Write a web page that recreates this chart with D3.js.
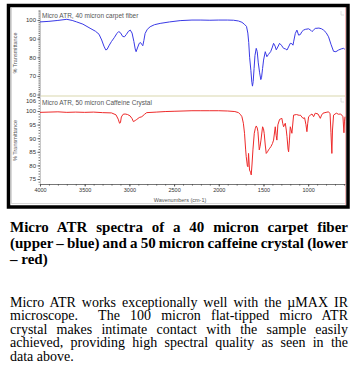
<!DOCTYPE html>
<html><head><meta charset="utf-8">
<script src="https://cdn.jsdelivr.net/npm/d3@7"></script>
<style>
body{margin:0;background:#fff;width:359px;height:379px;overflow:hidden;position:relative;}
svg{position:absolute;left:0;top:0;}
.blk{position:absolute;left:10px;width:338px;color:#000;}
.cap{font-family:"Liberation Serif","Times New Roman",serif;font-weight:bold;font-size:15px;line-height:16px;}
.par{font-family:"Liberation Serif","Times New Roman",serif;font-size:14px;line-height:13.6px;}
.ln{white-space:nowrap;display:block;}
.ln span{display:inline-block;white-space:pre;}
</style></head><body>
<svg id="chart" width="359" height="215"></svg>
<div class="blk cap" id="cap" style="top:219px;"></div>
<div class="blk par" id="par" style="top:295.5px;"></div>
<script>
// ---------------- data ----------------
const fiberTitle = "Micro ATR, 40 micron carpet fiber";
const caffeineTitle = "Micro ATR, 50 micron Caffeine Crystal";
const yTitle = "% Transmittance";
const xTitle = "Wavenumbers (cm-1)";

const fiberWavenumbers = [4000,3900,3800,3700,3640,3590,3520,3440,3380,3340,3310,3285,3265,3250,3225,3200,3170,3140,3120,3100,3075,3055,3035,3010,2990,2970,2950,2935,2925,2910,2890,2875,2860,2850,2838,2824,2800,2768,2720,2656,2550,2432,2300,2200,2100,2000,1900,1835,1780,1741,1715,1690,1675,1665,1655,1641,1630,1623,1615,1605,1595,1581,1570,1558,1544,1530,1522,1510,1499,1480,1462,1445,1420,1400,1387,1370,1357,1340,1320,1300,1275,1255,1237,1220,1200,1182,1170,1163,1144,1126,1107,1088,1070,1051,1032,995,970,957,940,921,880,850,828,800,772,745,716,690,660,630,604,590];
const fiberTransmittance = [99.0,99.3,99.8,100.4,99.8,99.0,97.8,95.6,94.0,92.4,89.3,86.0,84.0,84.2,86.5,88.5,90.5,92.8,93.8,93.2,91.2,91.0,92.2,94.0,94.6,93.0,88.5,84.5,83.0,85.0,87.5,87.9,86.8,86.2,89.0,92.8,95.0,96.4,97.5,98.2,99.0,99.7,100.0,100.0,99.9,100.0,100.0,99.9,99.5,98.8,97.8,96.6,93.0,88.0,80.0,73.0,66.5,64.5,67.0,74.0,81.0,84.8,83.0,77.0,72.0,68.0,69.0,74.0,78.5,83.0,80.3,81.5,83.0,85.5,87.5,86.0,84.0,85.5,87.5,86.5,84.8,84.5,83.9,85.5,87.5,87.3,86.5,88.3,92.8,94.6,91.9,92.2,93.8,94.6,95.0,95.3,94.5,93.8,94.6,95.5,95.7,95.3,94.6,93.3,91.0,87.0,83.2,83.0,83.9,84.5,84.8,84.3];

const caffeineWavenumbers = [4000,3900,3800,3700,3600,3500,3400,3300,3200,3150,3125,3110,3100,3090,3070,3048,3020,2992,2970,2955,2935,2917,2890,2861,2830,2806,2700,2600,2500,2400,2300,2200,2100,2000,1900,1820,1779,1755,1741,1725,1712,1700,1693,1680,1674,1667,1660,1656,1645,1637,1628,1618,1603,1592,1581,1570,1562,1547,1538,1528,1510,1500,1492,1480,1469,1455,1443,1430,1417,1400,1387,1368,1358,1350,1339,1320,1294,1285,1275,1256,1245,1237,1225,1219,1210,1200,1190,1182,1163,1130,1100,1088,1070,1058,1040,1025,1014,1005,995,975,957,939,921,890,864,850,834,800,772,755,745,735,728,716,685,660,641,620,611,600,594,588];
const caffeineTransmittance = [99.5,99.6,99.7,99.5,99.6,99.5,99.6,99.4,99.3,98.6,97.0,95.5,95.7,97.8,98.8,98.9,98.7,98.2,97.2,96.1,96.5,96.9,97.6,97.9,98.8,99.4,99.6,99.8,99.9,100.0,100.1,100.1,100.1,100.1,100.0,99.8,99.4,98.6,97.9,95.5,91.8,86.0,83.2,79.8,79.5,84.4,80.5,78.3,77.5,76.5,80.5,85.7,91.8,93.5,94.5,93.8,92.4,85.7,87.0,89.3,94.2,93.5,91.8,87.5,84.4,85.0,85.7,86.3,86.9,88.0,89.3,94.2,91.0,89.3,94.9,96.9,97.3,95.5,94.2,95.5,93.0,90.6,86.0,85.0,89.0,94.2,93.0,91.8,98.5,98.7,98.4,98.5,97.8,97.3,97.5,95.0,92.4,95.5,97.9,98.5,98.9,97.9,99.2,98.9,97.3,98.5,99.2,99.5,99.7,99.0,92.0,84.4,93.0,98.5,99.2,98.8,98.9,98.4,97.9,92.0,96.0,97.9];

const xTickLabels = [4000,3500,3000,2500,2000,1500,1000];
const xMinorTicks = d3.range(4000, 599, -100);
const fiberYTicks = [60,70,80,90,100];
const caffeineYTicks = [75,80,85,90,95,100,106];

const captionLines = ["Micro ATR spectra of a 40 micron carpet fiber","(upper \u2013 blue) and a 50 micron caffeine crystal (lower","\u2013 red)"];
const paragraphLines = ["Micro ATR works exceptionally well with the \u00b5MAX IR","microscope.\u00a0 The 100 micron flat-tipped micro ATR","crystal makes intimate contact with the sample easily","achieved, providing high spectral quality as seen in the","data above."];

// ---------------- chart ----------------
const svg = d3.select("#chart");
const sans = "'Liberation Sans', Arial, sans-serif";
const left = 40, right = 345;

const x = d3.scaleLinear().domain([4000, 588]).range([left, right]);
const yU = d3.scaleLinear().domain([59.2, 105.4]).range([96, 10]);
const yL = d3.scaleLinear().domain([73.16, 105.15]).range([184, 97]).clamp(true);

// inner pale borders
svg.append("line").attr("x1",11.5).attr("x2",11.5).attr("y1",8).attr("y2",204).attr("stroke","#d8d8d8").attr("stroke-width",1);
svg.append("line").attr("x1",11).attr("x2",345).attr("y1",203.5).attr("y2",203.5).attr("stroke","#d8d8d8").attr("stroke-width",1);
svg.append("line").attr("x1",345.5).attr("x2",345.5).attr("y1",7).attr("y2",205).attr("stroke","#f2b8b8").attr("stroke-width",1);

// separator between panels
svg.append("line").attr("x1",left).attr("x2",right).attr("y1",yU.range()[0]).attr("y2",yU.range()[0])
  .attr("stroke","#ecebd6").attr("stroke-width",2);

// corner marks
[yU.range()[1], yL.range()[1]].forEach(t=>{
  svg.append("path").attr("d",`M${right-4},${t+1}v4h3`).attr("fill","none").attr("stroke","#d8d8d8").attr("stroke-width",0.8);
});

function yAxis(scale, ticks){
  const g = svg.append("g").attr("transform",`translate(${left},0)`);
  const [d0,d1] = scale.domain();
  const minor = d3.range(Math.ceil(d0), Math.floor(d1)+1);
  g.call(d3.axisLeft(scale).tickValues(minor).tickSize(1.5).tickFormat(""))
   .call(s=>s.select(".domain").attr("stroke","#c8c8c8"))
   .call(s=>s.selectAll(".tick line").attr("stroke","#777"));
  const g2 = svg.append("g").attr("transform",`translate(${left},0)`);
  g2.call(d3.axisLeft(scale).tickValues(ticks).tickSize(2.5).tickPadding(1.5).tickFormat(d3.format("d")))
   .call(s=>s.select(".domain").remove())
   .call(s=>s.selectAll(".tick line").attr("stroke","#666"))
   .call(s=>s.selectAll(".tick text").attr("font-family",sans).attr("font-size","6px").attr("fill","#333"));
  return g2;
}
yAxis(yU, fiberYTicks);
const gl = yAxis(yL, caffeineYTicks);
gl.selectAll(".tick text").filter(d=>d>yL.domain()[1]).attr("dy","0.85em");

// x axis
const gx = svg.append("g").attr("transform",`translate(0,${yL.range()[0]})`);
gx.call(d3.axisBottom(x).tickValues(xMinorTicks).tickSize(1.5).tickSizeOuter(0).tickFormat(""))
  .call(s=>s.select(".domain").attr("stroke","#777"))
  .call(s=>s.selectAll(".tick line").attr("stroke","#555"));
const gx2 = svg.append("g").attr("transform",`translate(0,${yL.range()[0]})`);
gx2.call(d3.axisBottom(x).tickValues(xTickLabels).tickSize(2.5).tickPadding(2).tickFormat(d3.format("d")))
  .call(s=>s.select(".domain").remove())
  .call(s=>s.selectAll(".tick line").attr("stroke","#555"))
  .call(s=>s.selectAll(".tick text").attr("font-family",sans).attr("font-size","5.5px").attr("fill","#333"));

// spectra
const lineU = d3.line().x((d,i)=>x(fiberWavenumbers[i])).y(d=>yU(d));
const lineL = d3.line().x((d,i)=>x(caffeineWavenumbers[i])).y(d=>yL(d));
svg.append("path").datum(fiberTransmittance).attr("d",lineU).attr("fill","none").attr("stroke","#3a3ae6").attr("stroke-width",1);
svg.append("path").datum(caffeineTransmittance).attr("d",lineL).attr("fill","none").attr("stroke","#ee2a2a").attr("stroke-width",1);

// titles
svg.append("text").attr("x",left+2).attr("y",yU.range()[1]+7.5).text(fiberTitle)
  .attr("font-family",sans).attr("font-size","6.5px").attr("fill","#555");
svg.append("text").attr("x",left+2).attr("y",yL.range()[1]+8).text(caffeineTitle)
  .attr("font-family",sans).attr("font-size","6.5px").attr("fill","#555");
[yU,yL].forEach(s=>{
  svg.append("text").attr("transform",`translate(17,${(s.range()[0]+s.range()[1])/2}) rotate(-90)`)
    .attr("text-anchor","middle").text(yTitle)
    .attr("font-family",sans).attr("font-size","5.5px").attr("fill","#555");
});
svg.append("text").attr("x",180).attr("y",202).attr("text-anchor","middle").text(xTitle)
  .attr("font-family",sans).attr("font-size","5.5px").attr("fill","#555");

// frame
svg.append("rect").attr("x",8.5).attr("y",5.5).attr("width",339.5).attr("height",201.5)
  .attr("fill","none").attr("stroke","#000").attr("stroke-width",3.5);

// ---------------- text blocks ----------------
function fill(id, lines){
  const box = document.getElementById(id);
  const target = 338;
  lines.forEach((t,i)=>{
    const d = document.createElement("div"); d.className="ln";
    const s = document.createElement("span"); s.textContent = t; d.appendChild(s); box.appendChild(d);
    if(i < lines.length-1){
      const w = s.getBoundingClientRect().width;
      const n = (t.match(/[ \u00a0]/g)||[]).length;
      s.style.wordSpacing = ((target - w)/n) + "px";
    }
  });
}
fill("cap", captionLines);
fill("par", paragraphLines);
</script>
</body></html>
